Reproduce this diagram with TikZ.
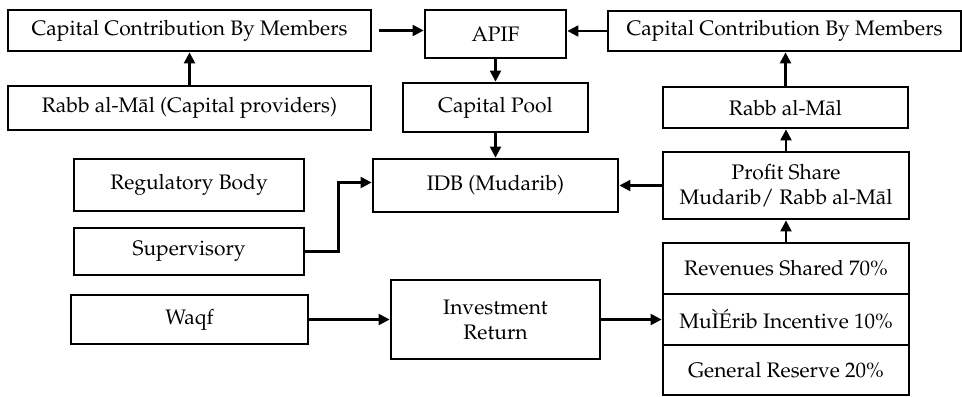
\documentclass[tikz,border=0pt]{standalone}
\usepackage[T1]{fontenc}
\usepackage{mathpazo}
\usetikzlibrary{arrows.meta,calc}
\begin{document}
\begin{tikzpicture}[x=0.5pt,y=-0.5pt]
\tikzstyle{every node}+=[inner sep=0pt]
\tikzstyle{box}=[draw=black,line width=1.4pt,align=center,font=\fontsize{10.5}{12.5}\selectfont]
\tikzstyle{arr}=[draw=black,line width=1.1pt,-{Triangle[length=5.5pt,width=5.5pt]}]
\useasboundingbox (0,0) rectangle (962,396);
% top row
\node[box,minimum width=181.5pt,minimum height=20.5pt] (ccl) at (189.5,30.5) {Capital Contribution By Members};
\node[box,minimum width=70.5pt,minimum height=24pt] (apif) at (495.5,34) {APIF};
\node[box,minimum width=176.5pt,minimum height=20pt] (ccr) at (784.5,31) {Capital Contribution By Members};
% second row
\node[box,minimum width=181.5pt,minimum height=22pt] (rabbl) at (189.5,108) {Rabb al-M\={a}l (Capital providers)};
\node[box,minimum width=92.5pt,minimum height=24.5pt] (pool) at (495.5,107.5) {Capital Pool};
\node[box,minimum width=122.5pt,minimum height=20.5pt] (rabbr) at (785.5,107.5) {Rabb al-M\={a}l};
% middle
\node[box,minimum width=115pt,minimum height=26pt] (reg) at (189,185) {Regulatory Body};
\node[box,minimum width=115pt,minimum height=23.5pt] (sup) at (189,251.5) {Supervisory};
\node[box,minimum width=122.5pt,minimum height=26.5pt] (idb) at (495.5,185.5) {IDB (Mudarib)};
\node[box,minimum width=123pt,minimum height=33.5pt] (profit) at (786,185.5) {Profit Share\\Mudarib/ Rabb al-M\={a}l};
% bottom
\node[box,minimum width=118.5pt,minimum height=24.5pt] (waqf) at (189.5,319.5) {Waqf};
\node[box,minimum width=104.5pt,minimum height=39.5pt] (invest) at (495.5,319.5) {Investment\\Return};
\node[box,minimum width=123pt,minimum height=25.5pt] (rev) at (786,268.5) {Revenues Shared 70\%};
\node[box,minimum width=123pt,minimum height=25.5pt] (inc) at (786,319.5) {Mu\`{I}\'{E}rib Incentive 10\%};
\node[box,minimum width=123pt,minimum height=25pt] (gen) at (786,370) {General Reserve 20\%};
% connectors
\draw[arr,shorten <=3.5pt] (ccl.east) -- (apif.west |- ccl.east);
\draw[arr] (ccr.west) -- (apif.east |- ccr.west);
\draw[arr] (rabbl.north) -- (ccl.south);
\draw[arr] (rabbr.north) -- (ccr.south -| rabbr.north);
\draw[arr] (apif.south) -- (pool.north);
\draw[arr] (pool.south) -- (idb.north);
\draw[arr] (sup.east) -| ($(sup.east)!.5!(idb.west)$) |- ([yshift=1.5pt]idb.west);
\draw[arr] (profit.west) -- (idb.east);
\draw[arr] (profit.north) -- (rabbr.south -| profit.north);
\draw[arr] (rev.north) -- (profit.south);
\draw[arr] (waqf.east) -- (invest.west);
\draw[arr] (invest.east) -- (inc.west);
\end{tikzpicture}
\end{document}
